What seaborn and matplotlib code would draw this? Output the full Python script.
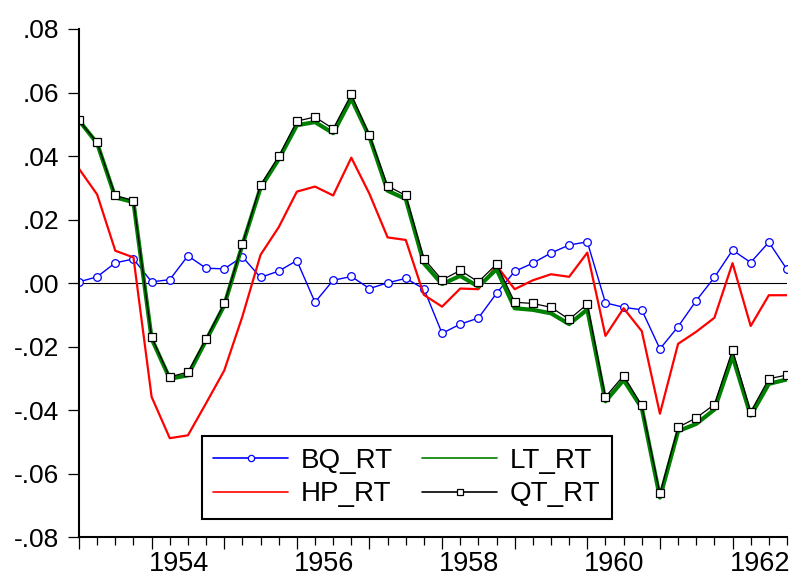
import numpy as np
import pandas as pd
import matplotlib
matplotlib.use('Agg')
import matplotlib.pyplot as plt
import seaborn as sns
from matplotlib.ticker import FuncFormatter, MultipleLocator

# Quarterly data, 1953Q1 - 1962Q4
start_year = 1953
n_quarters = 40

bq_rt = [0.0004, 0.0020, 0.0064, 0.0076, 0.0004, 0.0011, 0.0086, 0.0047,
         0.0045, 0.0083, 0.0018, 0.0038, 0.0071, -0.0060, 0.0009, 0.0021,
         -0.0017, 0.0001, 0.0015, -0.0018, -0.0158, -0.0129, -0.0110, -0.0032,
         0.0037, 0.0063, 0.0095, 0.0120, 0.0130, -0.0062, -0.0076, -0.0084,
         -0.0207, -0.0137, -0.0055, 0.0018, 0.0104, 0.0065, 0.0129, 0.0043]

hp_rt = [0.0360, 0.0279, 0.0102, 0.0081, -0.0358, -0.0488, -0.0479, -0.0378,
         -0.0275, -0.0105, 0.0089, 0.0176, 0.0288, 0.0304, 0.0276, 0.0395,
         0.0281, 0.0144, 0.0136, -0.0037, -0.0074, -0.0017, -0.0019, 0.0055,
         -0.0019, 0.0009, 0.0028, 0.0020, 0.0096, -0.0166, -0.0079, -0.0151,
         -0.0411, -0.0191, -0.0153, -0.0109, 0.0063, -0.0135, -0.0038, -0.0038]

lt_rt = [0.0512, 0.0440, 0.0270, 0.0255, -0.0175, -0.0301, -0.0290, -0.0180,
         -0.0070, 0.0120, 0.0300, 0.0390, 0.0497, 0.0507, 0.0472, 0.0581,
         0.0460, 0.0291, 0.0265, 0.0062, -0.0003, 0.0023, -0.0011, 0.0044,
         -0.0079, -0.0084, -0.0095, -0.0129, -0.0083, -0.0372, -0.0305, -0.0393,
         -0.0675, -0.0466, -0.0443, -0.0398, -0.0230, -0.0417, -0.0317, -0.0303]

qt_rt = [0.0512, 0.0443, 0.0276, 0.0260, -0.0170, -0.0295, -0.0280, -0.0175,
         -0.0064, 0.0123, 0.0309, 0.0399, 0.0510, 0.0523, 0.0486, 0.0594,
         0.0466, 0.0306, 0.0276, 0.0077, 0.0010, 0.0040, 0.0004, 0.0060,
         -0.0060, -0.0064, -0.0076, -0.0114, -0.0066, -0.0358, -0.0291, -0.0385,
         -0.0662, -0.0454, -0.0424, -0.0382, -0.0210, -0.0405, -0.0301, -0.0289]

year_labels = ['1954', '1956', '1958', '1960', '1962']

t = start_year + np.arange(n_quarters) / 4
df = pd.DataFrame({'t': t, 'BQ_RT': bq_rt, 'HP_RT': hp_rt,
                   'LT_RT': lt_rt, 'QT_RT': qt_rt})

sns.set_style('ticks')
plt.rcParams['font.family'] = ['Liberation Sans', 'DejaVu Sans']
plt.rcParams['text.color'] = 'black'

fig = plt.figure(figsize=(7.96, 5.78), dpi=100)
ax = fig.add_axes([79 / 796, 1 - 537.3 / 578, 708 / 796, 508.3 / 578])

ax.axhline(0, color='black', lw=0.8, zorder=1)

sns.lineplot(data=df, x='t', y='BQ_RT', ax=ax, color='#0000ff', lw=1.0,
             marker='o', markersize=5.5, markerfacecolor='white',
             markeredgecolor='#0000ff', markeredgewidth=0.9, label='BQ_RT')
sns.lineplot(data=df, x='t', y='HP_RT', ax=ax, color='#ff0000', lw=1.6,
             label='HP_RT')
sns.lineplot(data=df, x='t', y='LT_RT', ax=ax, color='#008000', lw=3.0,
             label='LT_RT')
sns.lineplot(data=df, x='t', y='QT_RT', ax=ax, color='black', lw=0.9,
             marker='s', markersize=6, markerfacecolor='white',
             markeredgecolor='black', markeredgewidth=0.9, label='QT_RT')

ax.set_xlim(start_year, start_year + (n_quarters - 1) / 4)
ax.set_ylim(-0.08, 0.08)
ax.set_xlabel('')
ax.set_ylabel('')

# y axis
ax.yaxis.set_major_locator(MultipleLocator(0.02))
ax.yaxis.set_major_formatter(FuncFormatter(
    lambda v, p: ('-' if v < -1e-9 else '') + f'{abs(v):.2f}'.lstrip('0')))
ax.tick_params(axis='y', length=8, width=0.9, pad=6, labelsize=19,
               direction='out', colors='black')

# x axis: long ticks at each year, short at quarters, labels mid-year
ax.xaxis.set_major_locator(MultipleLocator(1))
ax.xaxis.set_minor_locator(MultipleLocator(0.25))
ax.tick_params(axis='x', which='major', length=8.6, width=0.9,
               labelbottom=False, colors='black')
ax.tick_params(axis='x', which='minor', length=5.8, width=0.9, colors='black')

sec = ax.secondary_xaxis('bottom')
sec.set_xticks([int(y) + 0.375 for y in year_labels], year_labels)
sec.tick_params(length=0, pad=10, labelsize=19.5, labelcolor='black')
sec.spines['bottom'].set_visible(False)

for s in ['top', 'right']:
    ax.spines[s].set_visible(False)
for s in ['left', 'bottom']:
    ax.spines[s].set_linewidth(1.5)
    ax.spines[s].set_color('black')

leg = ax.legend(loc='lower left', bbox_to_anchor=(0.1733, 0.036), ncol=2,
                fontsize=20, frameon=True, fancybox=False, numpoints=1,
                handlelength=2.7, handletextpad=0.45, columnspacing=1.05,
                labelspacing=0.28, borderpad=0.42, borderaxespad=0)
leg.get_frame().set_edgecolor('black')
leg.get_frame().set_linewidth(1.5)
leg.get_frame().set_alpha(1)
for txt in leg.get_texts():
    txt.set_color('black')
for h in leg.legend_handles:
    h.set_linewidth(1.2)
    h.set_markersize(4.5)

fig.savefig('out.png', dpi=100)
